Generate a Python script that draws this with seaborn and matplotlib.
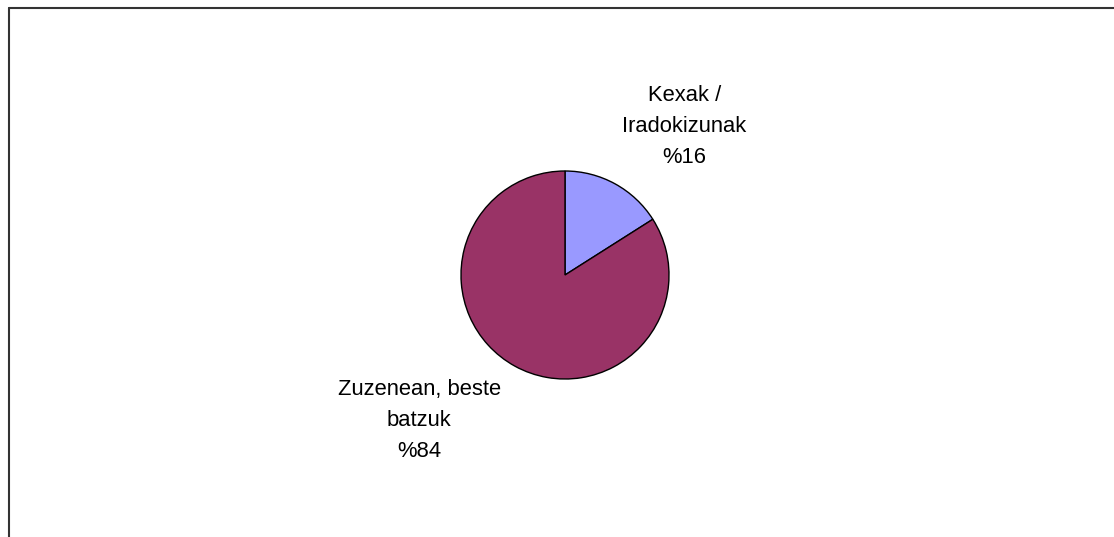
import matplotlib
matplotlib.use("Agg")
import matplotlib.pyplot as plt
from matplotlib.lines import Line2D
import seaborn as sns

# data
categories = ["Kexak /\nIradokizunak", "Zuzenean, beste\nbatzuk"]
values = [16, 84]
colors = ["#9999FF", "#993366"]

sns.set_theme(style="white")
plt.rcParams['font.family'] = ['Liberation Sans', 'DejaVu Sans']

W, H = 1114, 537
fig = plt.figure(figsize=(W / 100, H / 100), dpi=100)
fig.patch.set_facecolor("white")

# pie centre (565, 275) px, radius 104 px
cx, cy, r = 565, 275, 104
ax = fig.add_axes([(cx - r) / W, (H - cy - r) / H, 2 * r / W, 2 * r / H])
wedges, _ = ax.pie(values, colors=colors, startangle=90, counterclock=False,
                   wedgeprops=dict(edgecolor="black", linewidth=1.0))
ax.set_xlim(-1, 1)
ax.set_ylim(-1, 1)
ax.axis("off")

# labels (positions relative to unit pie)
label_pos = [(1.15, 1.43), (-1.40, -1.40)]
for cat, v, (lx, ly) in zip(categories, values, label_pos):
    ax.text(lx, ly, f"{cat}\n%{v}", ha="center", va="center", fontsize=15.8,
            linespacing=1.62, color="black", clip_on=False)

# chart frame (left and top edges visible)
fig.add_artist(Line2D([8.5 / W, 8.5 / W], [0, 1 - 7.5 / H], transform=fig.transFigure,
                      color="#333333", linewidth=1.5))
fig.add_artist(Line2D([8.5 / W, 1], [1 - 7.5 / H, 1 - 7.5 / H], transform=fig.transFigure,
                      color="#333333", linewidth=1.5))

fig.savefig("out.png", dpi=100)
